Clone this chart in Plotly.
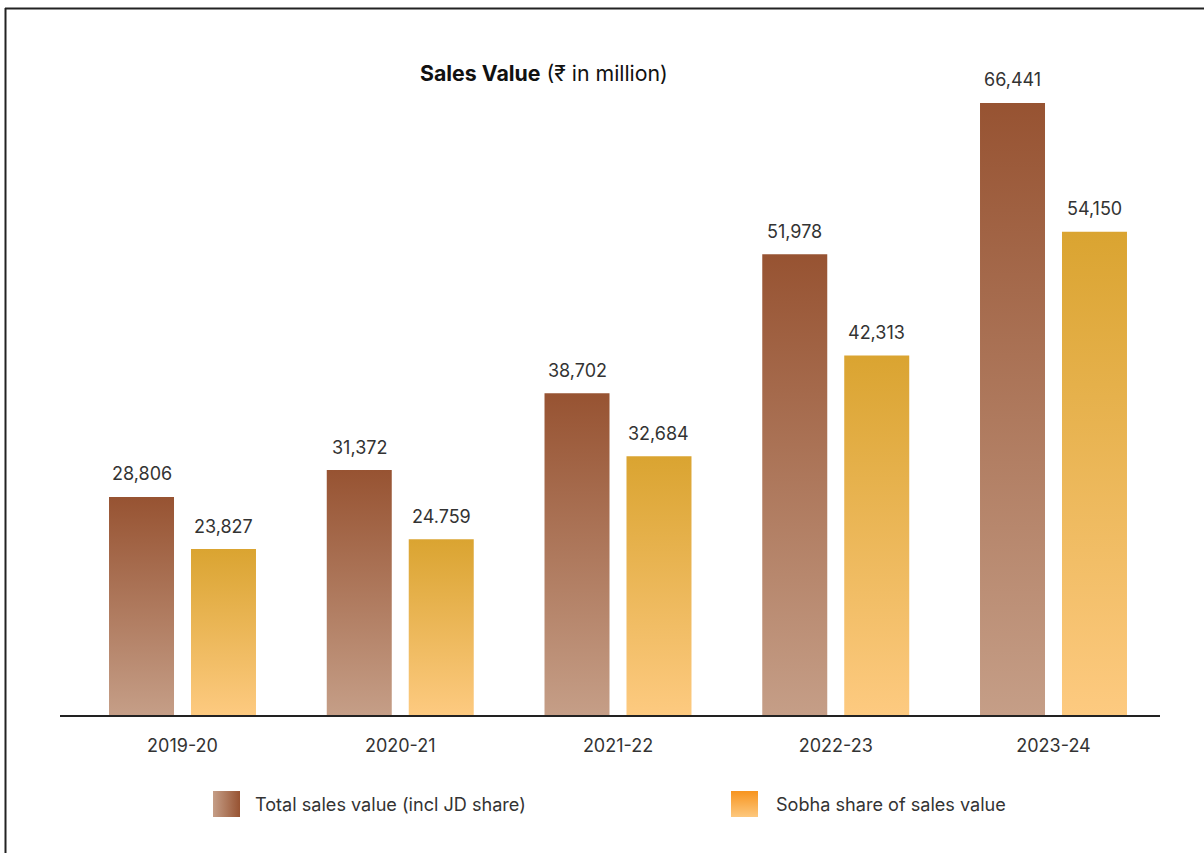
import plotly.graph_objects as go

categories = ["2019-20", "2020-21", "2021-22", "2022-23", "2023-24"]
total_sales = [28806, 31372, 38702, 51978, 66441]
sobha_share = [23827, 24759, 32684, 42313, 54150]
total_labels = ["28,806", "31,372", "38,702", "51,978", "66,441"]
sobha_labels = ["23,827", "24.759", "32,684", "42,313", "54,150"]
series_names = ["Total sales value (incl JD share)", "Sobha share of sales value"]

W, H = 1204, 853
FONT = "Inter"
TXT = "#333333"

total_scale = [[0, "#C59E87"], [1, "#975332"]]
sobha_scale = [[0, "#FDCA80"], [1, "#DAA431"]]

fig = go.Figure()

bar_in, bar_out = 0.039, 0.3375
y_min = 7966

def add_bar(xc, val, lo, hi, scale):
    xs = [xc + lo, xc + hi, xc + hi, xc + lo, xc + lo]
    ys = [y_min, y_min, val, val, y_min]
    fig.add_trace(go.Scatter(
        x=xs, y=ys, mode="lines", fill="toself", line=dict(width=0),
        fillgradient=dict(type="vertical", colorscale=scale),
        hoverinfo="skip", showlegend=False))

for i, cat in enumerate(categories):
    add_bar(i, total_sales[i], -bar_out, -bar_in, total_scale)
    add_bar(i, sobha_share[i], bar_in, bar_out, sobha_scale)
    cx_t = i - (bar_out + bar_in) / 2
    cx_s = i + (bar_out + bar_in) / 2
    fig.add_annotation(x=cx_t, y=total_sales[i], text=total_labels[i], showarrow=False,
                       yanchor="middle", yshift=23, font=dict(family=FONT, size=18, color=TXT))
    fig.add_annotation(x=cx_s, y=sobha_share[i], text=sobha_labels[i], showarrow=False,
                       yanchor="middle", yshift=23, font=dict(family=FONT, size=18, color=TXT))

# legend swatches (pixel coordinate overlay axes)
def px_y(p):
    return H - p

fig.add_trace(go.Scatter(
    x=[213, 240, 240, 213, 213], y=[px_y(817), px_y(817), px_y(791), px_y(791), px_y(817)],
    xaxis="x2", yaxis="y2", mode="lines", fill="toself", line=dict(width=0),
    fillgradient=dict(type="horizontal", colorscale=[[0, "#C59E87"], [1, "#975332"]]),
    hoverinfo="skip", showlegend=False))
fig.add_trace(go.Scatter(
    x=[731, 758, 758, 731, 731], y=[px_y(817), px_y(817), px_y(791), px_y(791), px_y(817)],
    xaxis="x2", yaxis="y2", mode="lines", fill="toself", line=dict(width=0),
    fillgradient=dict(type="vertical", colorscale=[[0, "#FDC87E"], [1, "#F7941E"]]),
    hoverinfo="skip", showlegend=False))

fig.add_annotation(xref="paper", yref="paper", x=253 / W, y=1 - 804 / H, text=series_names[0],
                   showarrow=False, xanchor="left", yanchor="middle",
                   font=dict(family=FONT, size=18.1, color=TXT))
fig.add_annotation(xref="paper", yref="paper", x=774 / W, y=1 - 804 / H, text=series_names[1],
                   showarrow=False, xanchor="left", yanchor="middle",
                   font=dict(family=FONT, size=18.1, color=TXT))

# title
fig.add_annotation(xref="paper", yref="paper", x=543.5 / W, y=1 - 73 / H,
                   text="<b>Sales Value</b> (₹ in million)", showarrow=False,
                   xanchor="center", yanchor="middle",
                   font=dict(family=FONT, size=21.3, color="#111111"))

# frame lines
fig.add_shape(type="line", xref="paper", yref="paper", x0=5.5 / W, x1=5.5 / W, y0=0, y1=1 - 8 / H,
              line=dict(color="#222222", width=2))
fig.add_shape(type="line", xref="paper", yref="paper", x0=5 / W, x1=1, y0=1 - 8.5 / H, y1=1 - 8.5 / H,
              line=dict(color="#222222", width=2))

fig.update_layout(
    width=W, height=H, margin=dict(l=0, r=0, t=0, b=0),
    paper_bgcolor="white", plot_bgcolor="rgba(0,0,0,0)", showlegend=False,
    xaxis=dict(domain=[60 / W, 1160 / W], range=[(60 - 182.5) / 217.75, (1160 - 182.5) / 217.75],
               tickvals=list(range(len(categories))), ticktext=categories,
               ticks="outside", ticklen=14, tickcolor="rgba(0,0,0,0)",
               showgrid=False, zeroline=False, showline=True, linecolor="#222222", linewidth=1.5,
               tickfont=dict(family=FONT, size=18, color=TXT), fixedrange=True),
    yaxis=dict(domain=[(H - 715) / H, (H - 60) / H], range=[y_min, y_min + (715 - 60) / 0.010466],
               visible=False, fixedrange=True),
    xaxis2=dict(domain=[0, 1], range=[0, W], visible=False, fixedrange=True, anchor="y2"),
    yaxis2=dict(domain=[0, 1], range=[0, H], visible=False, fixedrange=True, anchor="x2"),
)

fig.write_html("out.html")
